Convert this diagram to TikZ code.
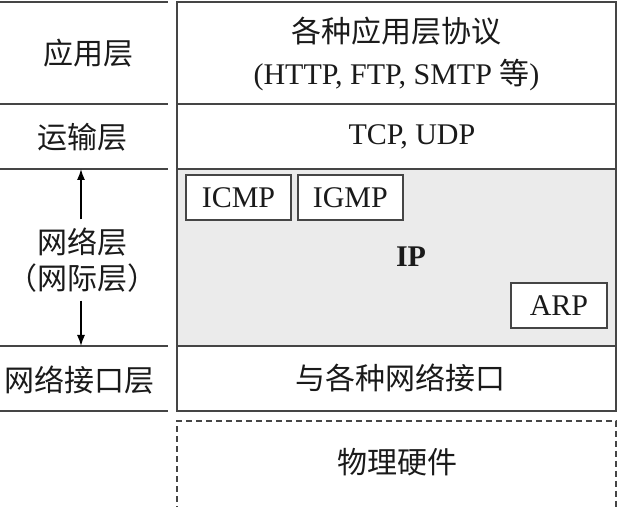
\documentclass[tikz,border=0pt]{standalone}
\usepackage{fontspec}
\setmainfont{Liberation Serif}
\newfontfamily\cjk{Noto Sans CJK SC}
\usetikzlibrary{arrows.meta, positioning}
\definecolor{linegray}{HTML}{454545}
\definecolor{iparea}{HTML}{EBEBEB}
\definecolor{inkgray}{HTML}{1A1A1A}
\tikzset{
    layerbox/.style = {draw=linegray, line width=0.9pt, rectangle, minimum width=219.5pt, inner sep=0pt},
    protobox/.style = {draw=linegray, line width=0.9pt, fill=white, rectangle, minimum height=22.5pt,
      inner sep=0pt, text=inkgray, font=\fontsize{15}{18}\selectfont},
    cjknode/.style = {draw=none, inner sep=0pt, text=inkgray, font=\cjk\fontsize{15}{18}\selectfont, align=center},
    latinnode/.style = {draw=none, inner sep=0pt, text=inkgray, font=\fontsize{15}{21}\selectfont, align=center},
    sepline/.style = {linegray, line width=0.9pt},
    updown/.style = {black, line width=0.7pt, shorten <=4pt, -{Latex[length=5.5pt,width=4pt]}},
    physbox/.style = {linegray, line width=0.8pt, dash pattern=on 3pt off 2pt}
}
\begin{document}
\begin{tikzpicture}[x=0.5pt,y=-0.5pt]
    \useasboundingbox (0,0) rectangle (622,507);

    % layer boxes on the right
    \node [layerbox, name=app, minimum height=51pt] at (396.5,53) {};
    \node [layerbox, name=trans, minimum height=32.5pt] at (396.5,136.5) {};
    \node [layerbox, name=net, minimum height=88.5pt, fill=iparea] at (396.5,257.5) {};
    \node [layerbox, name=link, minimum height=32.5pt] at (396.5,378.5) {};

    \node [latinnode, name=apptxt] at (396.5,54) {{\cjk 各种应用层协议}\\(HTTP, FTP, SMTP {\cjk 等})};
    \node [latinnode, name=transtxt] at (412,137) {TCP, UDP};
    \node [latinnode, name=iptxt, font=\bfseries\fontsize{15}{18}\selectfont] at (411,257) {IP};
    \node [cjknode, name=linktxt] at (400,378) {与各种网络接口};

    % protocols inside the IP layer
    \node [protobox, name=icmp, minimum width=52.5pt] at (238.5,197.5) {ICMP};
    \node [protobox, name=igmp, minimum width=52.5pt, right=2.5pt of icmp] {IGMP};
    \node [protobox, name=arp, minimum width=48pt] at (559,305.5) {ARP};

    % hardware, open at the bottom
    \coordinate (physL) at (177,512);
    \coordinate (physTR) at (616,421);
    \coordinate (physR) at (616,512);
    \draw [physbox] (physL) |- (physTR) -- (physR);
    \node [cjknode, name=phystxt] at (397,462) {物理硬件};

    % layer names on the left
    \foreach \y in {2,104,169,346,411}
        \draw [sepline] (0,\y) -- (168,\y);
    \node [cjknode, name=applbl] at (88,53) {应用层};
    \node [cjknode, name=translbl] at (83,137) {运输层};
    \node [cjknode, name=netlbl] at (83,260) {网络层\\（网际层）};
    \node [cjknode, name=linklbl] at (79,380) {网络接口层};

    \coordinate (netTop) at (81,169);
    \coordinate (netBot) at (81,346);
    \draw [updown] (netlbl.north -| netTop) -- (netTop);
    \draw [updown] (netlbl.south -| netBot) -- (netBot);
\end{tikzpicture}
\end{document}
